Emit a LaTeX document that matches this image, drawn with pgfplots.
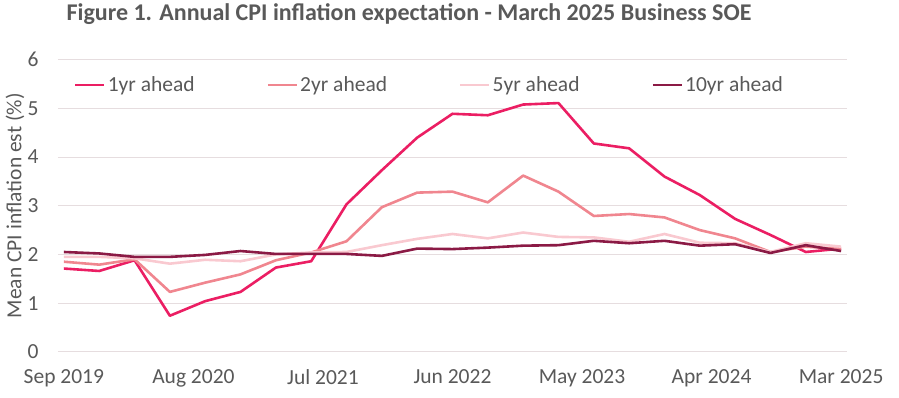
\documentclass[border=0pt]{standalone}
\usepackage{pgfplots}
\pgfplotsset{compat=1.18}
\usepackage{fontspec}
\setmainfont{Carlito}
\definecolor{c1}{HTML}{EB1E63}
\definecolor{c2}{HTML}{F0868F}
\definecolor{c5}{HTML}{F9C9D0}
\definecolor{c10}{HTML}{8B1A45}
\definecolor{txt}{HTML}{595959}
\definecolor{grd}{HTML}{E6DDDF}
\pgfplotstableread{
m one two five ten
0  1.71 1.85 1.95 2.05
3  1.66 1.79 1.95 2.02
6  1.88 1.90 1.92 1.95
9  0.74 1.23 1.81 1.95
12 1.04 1.42 1.89 1.99
15 1.23 1.59 1.86 2.07
18 1.73 1.88 2.00 2.01
21 1.86 2.04 2.04 2.01
24 3.03 2.27 2.05 2.01
27 3.73 2.97 2.19 1.97
30 4.40 3.27 2.32 2.12
33 4.89 3.29 2.42 2.11
36 4.86 3.07 2.33 2.14
39 5.08 3.62 2.45 2.18
42 5.11 3.29 2.36 2.19
45 4.28 2.79 2.35 2.28
48 4.18 2.83 2.26 2.23
51 3.60 2.76 2.42 2.28
54 3.22 2.50 2.24 2.18
57 2.73 2.33 2.23 2.21
60 2.40 2.05 2.05 2.03
63 2.05 2.16 2.23 2.19
66 2.12 2.11 2.16 2.07
}\data
\begin{document}
\begin{tikzpicture}
\begin{axis}[
  at={(0,0)}, anchor=south west,
  scale only axis, width=789bp, height=292bp,
  xmin=-0.5, xmax=66.5, ymin=0, ymax=6,
  axis line style={draw=none},
  major tick length=0pt,
  xtick={0,11,22,33,44,55,66},
  xticklabels={Sep 2019,Aug 2020,Jul 2021,Jun 2022,May 2023,Apr 2024,Mar 2025},
  ytick={0,1,2,3,4,5,6},
  ymajorgrids, grid style={grd, line width=1bp},
  tick label style={font=\fontsize{21.5bp}{24bp}\selectfont, text=txt},
  /pgf/number format/assume math mode=true,
  yticklabel style={anchor=east, xshift=-16bp},
  xticklabel style={anchor=north, yshift=-14bp},
  ylabel={Mean CPI inflation est (\%)},
  ylabel style={font=\fontsize{21.5bp}{24bp}\selectfont, text=txt, at={(axis description cs:0,0.5)}, anchor=center, yshift=43bp},
  title={\textbf{Figure 1. Annual CPI inflation expectation - March 2025 Business SOE}},
  title style={font=\fontsize{24bp}{28bp}\selectfont, text=txt, at={(rel axis cs:0,1)}, anchor=center, xshift=351bp, yshift=40bp},
  legend columns=4,
  legend style={draw=none, fill=none, at={(rel axis cs:0,1)}, anchor=north west, xshift=16bp, yshift=-15bp,
    font=\fontsize{21.5bp}{24bp}\selectfont, text=txt,
    /tikz/every even column/.append style={column sep=70bp}, inner sep=0pt},
  legend image code/.code={\draw[#1, line width=2.6bp] (0bp,0bp) -- (29bp,0bp);},
  every axis plot/.append style={line width=2.6bp, mark=none, line join=round},
  clip=false,
]
\addplot[c1] table[x=m, y=one] {\data};
\addplot[c2] table[x=m, y=two] {\data};
\addplot[c5] table[x=m, y=five] {\data};
\addplot[c10] table[x=m, y=ten] {\data};
\legend{1yr ahead,2yr ahead,5yr ahead,10yr ahead}
\end{axis}
\path[use as bounding box] (-58bp,-46bp) rectangle (841bp,350bp);
\end{tikzpicture}
\end{document}
